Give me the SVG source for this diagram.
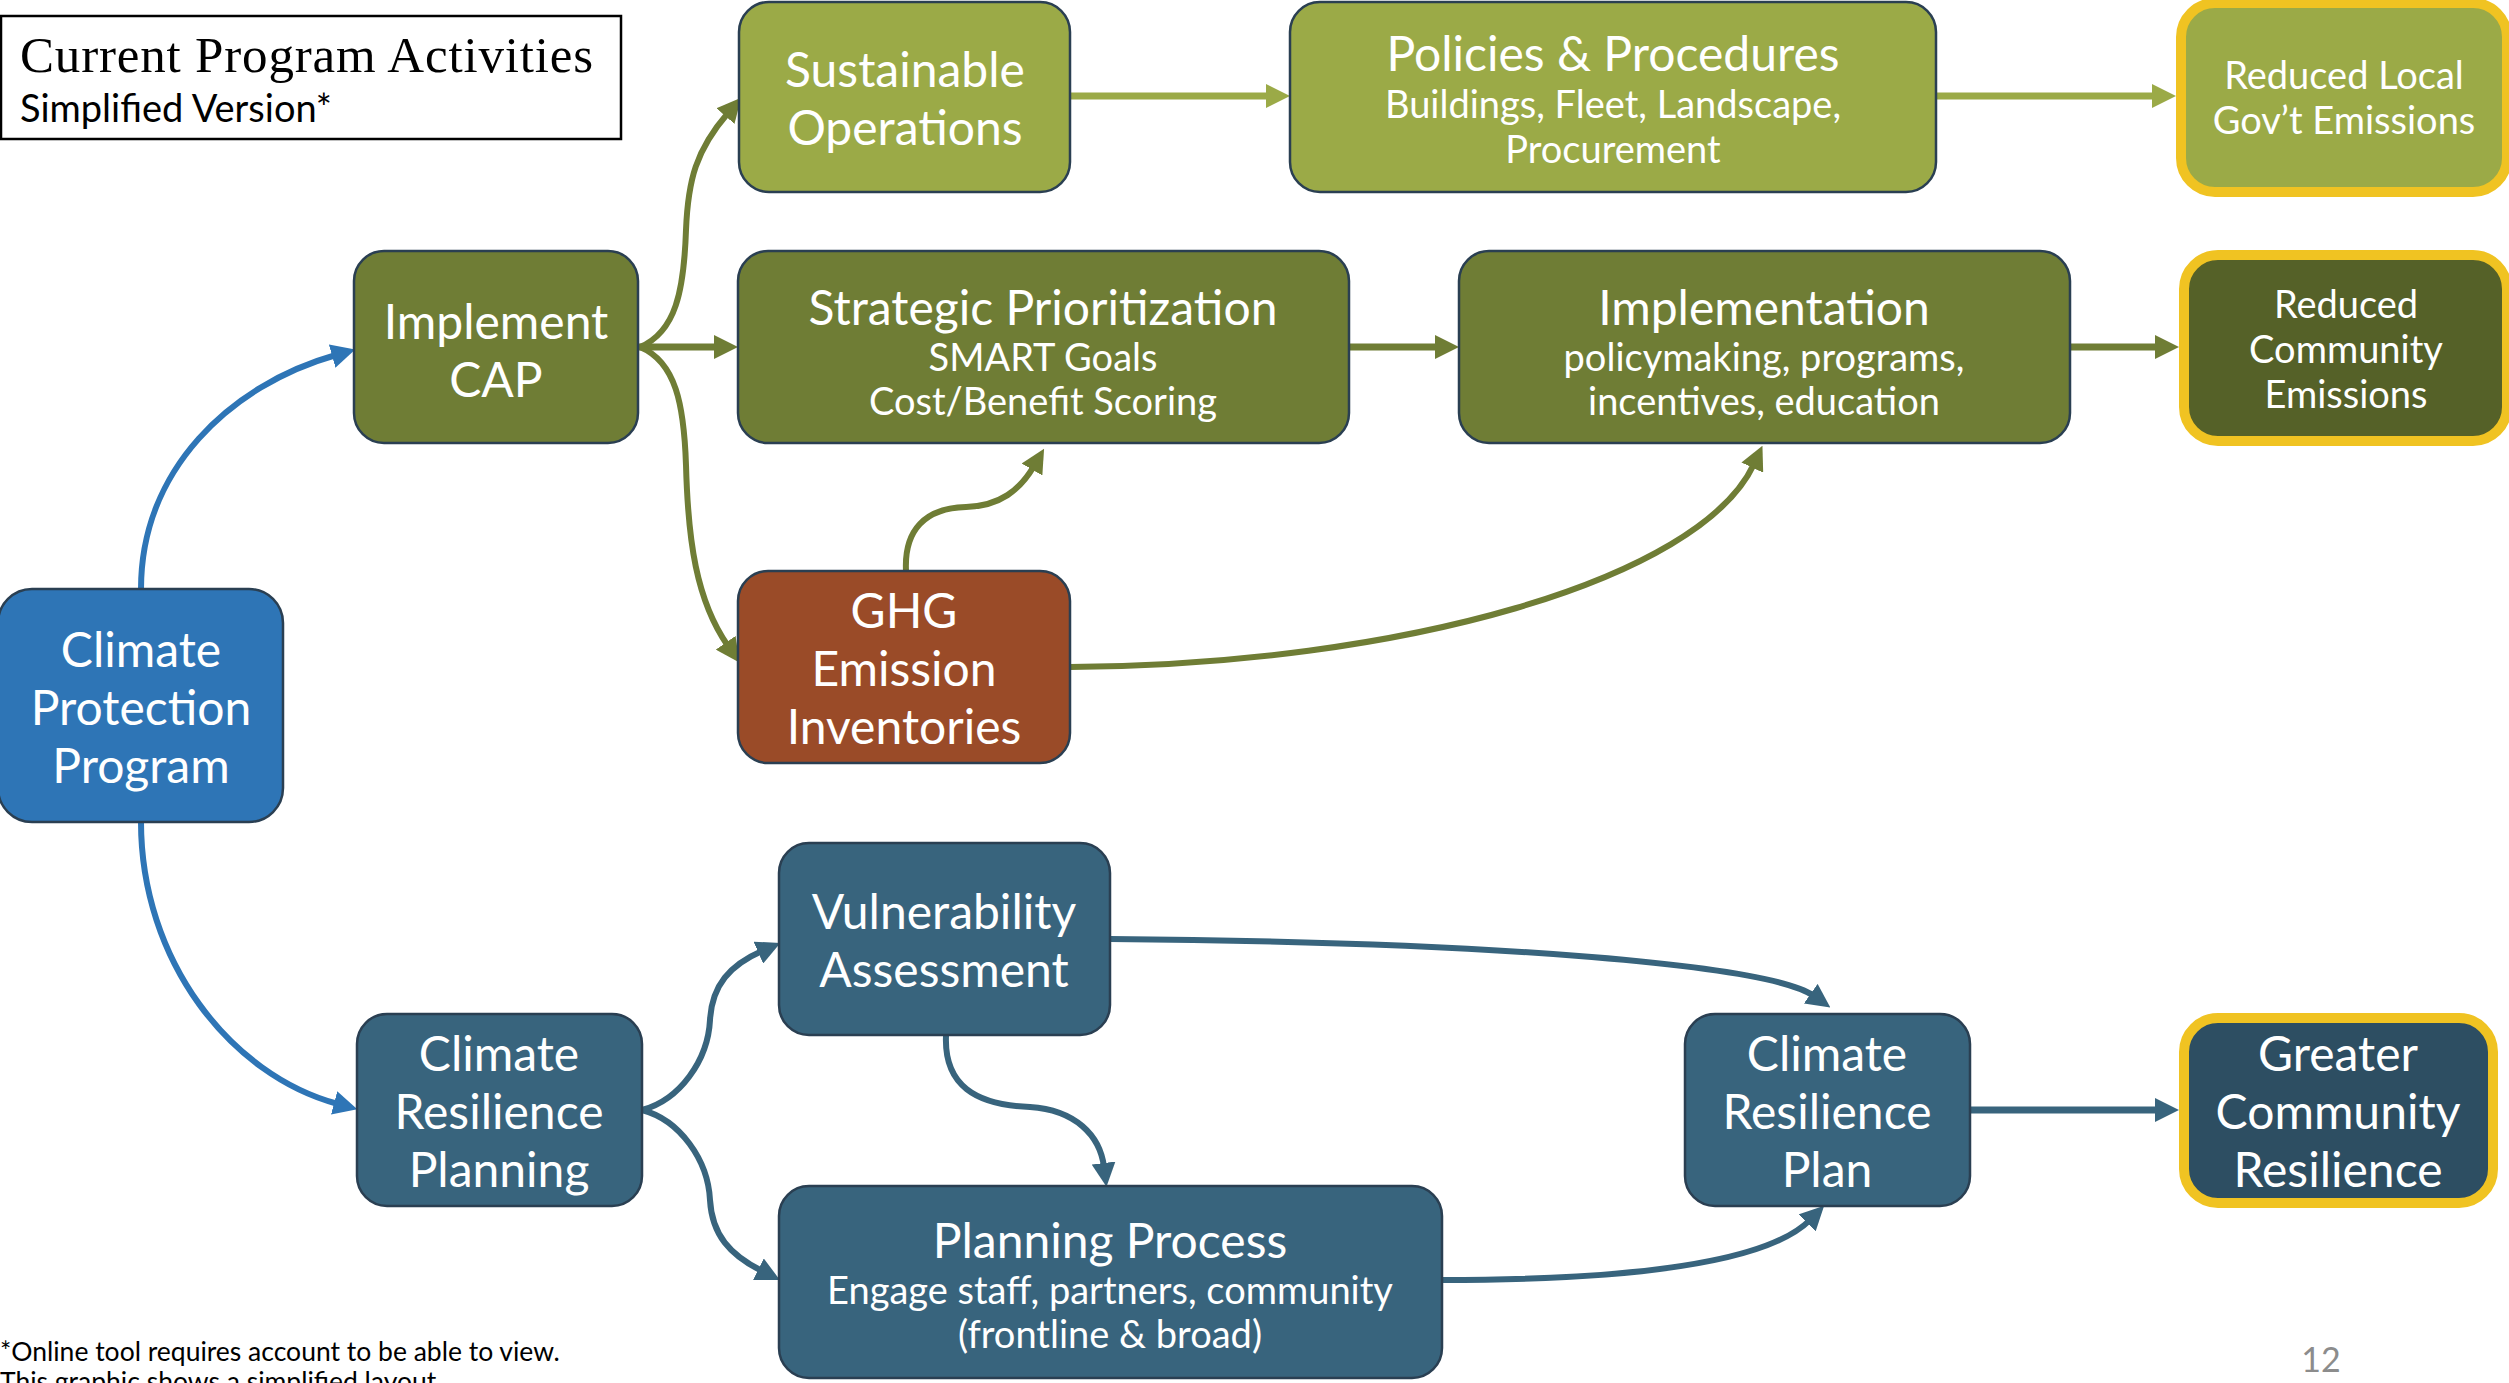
<svg xmlns="http://www.w3.org/2000/svg" width="2509" height="1383" viewBox="0 0 2509 1383">
<defs>
<style>
.n{stroke:#2A3F52;stroke-width:2.5}
.y{stroke:#F0C322;stroke-width:10}
.t{font-family:Lato,"Noto Sans","Liberation Sans",sans-serif;fill:#FFFFFF;text-anchor:middle}
.h{font-size:48px}
.s{font-size:38px}
.c{fill:none;stroke-width:6}
.w{stroke-width:7}
.lg{stroke:#9BAA47}
.og{stroke:#6F7D35}
.bl{stroke:#2E75B6}
.st{stroke:#38647D}
.f{font-family:Lato,"Liberation Sans",sans-serif;font-size:26.5px;fill:#000000}
</style>
<marker id="aLg" markerUnits="userSpaceOnUse" markerWidth="24" markerHeight="24" viewBox="0 0 24 24" refX="4" refY="12" orient="auto"><path d="M0,0 L24,12 L0,24 z" fill="#9BAA47"/></marker>
<marker id="aOg" markerUnits="userSpaceOnUse" markerWidth="24" markerHeight="24" viewBox="0 0 24 24" refX="4" refY="12" orient="auto"><path d="M0,0 L24,12 L0,24 z" fill="#6F7D35"/></marker>
<marker id="aBl" markerUnits="userSpaceOnUse" markerWidth="24" markerHeight="24" viewBox="0 0 24 24" refX="4" refY="12" orient="auto"><path d="M0,0 L24,12 L0,24 z" fill="#2E75B6"/></marker>
<marker id="aSt" markerUnits="userSpaceOnUse" markerWidth="24" markerHeight="24" viewBox="0 0 24 24" refX="4" refY="12" orient="auto"><path d="M0,0 L24,12 L0,24 z" fill="#38647D"/></marker>
</defs>
<rect width="2509" height="1383" fill="#FFFFFF"/>

<g id="connectors">
<path class="c w lg" d="M1070,96 L1270,96" marker-end="url(#aLg)"/>
<path class="c w lg" d="M1936,96 L2156,96" marker-end="url(#aLg)"/>
<path class="c w og" d="M638,347 L718,347" marker-end="url(#aOg)"/>
<path class="c w og" d="M1349,347 L1439,347" marker-end="url(#aOg)"/>
<path class="c w og" d="M2070,347 L2159,347" marker-end="url(#aOg)"/>
<path class="c w st" d="M1970,1110 L2159,1110" marker-end="url(#aSt)"/>
<path class="c og" d="M640,347 C676,332 684,290 686,230 C688,180 696,150 728,113" marker-end="url(#aOg)"/>
<path class="c og" d="M640,347 C676,362 684,405 686,465 C688,540 696,600 728,646" marker-end="url(#aOg)"/>
<path class="c og" d="M906,571 C904,530 925,508 966,507 C1000,506 1020,490 1034,466" marker-end="url(#aOg)"/>
<path class="c og" d="M1070,667 C1400,665 1700,580 1754,464" marker-end="url(#aOg)"/>
<path class="c bl" d="M141,589 C141,470 230,385 336,355" marker-end="url(#aBl)"/>
<path class="c bl" d="M141,822 C141,960 230,1075 338,1104" marker-end="url(#aBl)"/>
<path class="c st" d="M642,1110 C680,1100 708,1060 710,1020 C712,985 730,965 762,951" marker-end="url(#aSt)"/>
<path class="c st" d="M642,1110 C680,1120 708,1160 710,1200 C712,1235 730,1255 762,1271" marker-end="url(#aSt)"/>
<path class="c st" d="M1110,939 C1500,942 1770,965 1814,996" marker-end="url(#aSt)"/>
<path class="c st" d="M946,1036 C944,1085 975,1105 1030,1107 C1075,1110 1100,1135 1104,1167" marker-end="url(#aSt)"/>
<path class="c st" d="M1442,1280 C1650,1280 1770,1260 1810,1220" marker-end="url(#aSt)"/>
</g>

<g id="title">
<rect x="1" y="16" width="620" height="123" fill="#FFFFFF" stroke="#000000" stroke-width="2.5"/>
<text x="20" y="72" font-family="'Liberation Serif',serif" font-size="51" fill="#000000" textLength="573">Current Program Activities</text>
<text x="20" y="122" font-family="Lato,'Liberation Sans',sans-serif" font-size="38" fill="#000000">Simplified Version*</text>
</g>

<g id="sustainable-operations">
<rect class="n" x="739" y="2" width="331" height="190" rx="30" fill="#9BAA47"/>
<text class="t h" x="905" y="87">Sustainable</text>
<text class="t h" x="905" y="145">Operations</text>
</g>

<g id="policies-procedures">
<rect class="n" x="1290" y="2" width="646" height="190" rx="30" fill="#9BAA47"/>
<text class="t h" x="1613" y="71">Policies &amp; Procedures</text>
<text class="t s" x="1613" y="118">Buildings, Fleet, Landscape,</text>
<text class="t s" x="1613" y="163">Procurement</text>
</g>

<g id="reduced-local-emissions">
<rect class="y" x="2181" y="3" width="326" height="189" rx="34" fill="#9BAA47"/>
<text class="t s" x="2344" y="89">Reduced Local</text>
<text class="t s" x="2344" y="134">Gov’t Emissions</text>
</g>

<g id="implement-cap">
<rect class="n" x="354" y="251" width="284" height="192" rx="30" fill="#6F7D35"/>
<text class="t h" x="496" y="339">Implement</text>
<text class="t h" x="496" y="397">CAP</text>
</g>

<g id="strategic-prioritization">
<rect class="n" x="738" y="251" width="611" height="192" rx="30" fill="#6F7D35"/>
<text class="t h" x="1043" y="325">Strategic Prioritization</text>
<text class="t s" x="1043" y="371">SMART Goals</text>
<text class="t s" x="1043" y="415">Cost/Benefit Scoring</text>
</g>

<g id="implementation">
<rect class="n" x="1459" y="251" width="611" height="192" rx="30" fill="#6F7D35"/>
<text class="t h" x="1764" y="325">Implementation</text>
<text class="t s" x="1764" y="371">policymaking, programs,</text>
<text class="t s" x="1764" y="415">incentives, education</text>
</g>

<g id="reduced-community-emissions">
<rect class="y" x="2184" y="255" width="323" height="186" rx="34" fill="#556128"/>
<text class="t s" x="2346" y="318">Reduced</text>
<text class="t s" x="2346" y="363">Community</text>
<text class="t s" x="2346" y="408">Emissions</text>
</g>

<g id="ghg-inventories">
<rect class="n" x="738" y="571" width="332" height="192" rx="30" fill="#9A4B28"/>
<text class="t h" x="904" y="628">GHG</text>
<text class="t h" x="904" y="686">Emission</text>
<text class="t h" x="904" y="744">Inventories</text>
</g>

<g id="climate-protection-program">
<rect class="n" x="-2" y="589" width="285" height="233" rx="34" fill="#2E75B6"/>
<text class="t h" x="141" y="667">Climate</text>
<text class="t h" x="141" y="725">Protection</text>
<text class="t h" x="141" y="783">Program</text>
</g>

<g id="vulnerability-assessment">
<rect class="n" x="779" y="843" width="331" height="192" rx="30" fill="#38647D"/>
<text class="t h" x="944" y="929">Vulnerability</text>
<text class="t h" x="944" y="987">Assessment</text>
</g>

<g id="climate-resilience-planning">
<rect class="n" x="357" y="1014" width="285" height="192" rx="30" fill="#38647D"/>
<text class="t h" x="499" y="1071">Climate</text>
<text class="t h" x="499" y="1129">Resilience</text>
<text class="t h" x="499" y="1187">Planning</text>
</g>

<g id="planning-process">
<rect class="n" x="779" y="1186" width="663" height="192" rx="30" fill="#38647D"/>
<text class="t h" x="1110" y="1258">Planning Process</text>
<text class="t s" x="1110" y="1304">Engage staff, partners, community</text>
<text class="t s" x="1110" y="1348">(frontline &amp; broad)</text>
</g>

<g id="climate-resilience-plan">
<rect class="n" x="1685" y="1014" width="285" height="192" rx="30" fill="#38647D"/>
<text class="t h" x="1827" y="1071">Climate</text>
<text class="t h" x="1827" y="1129">Resilience</text>
<text class="t h" x="1827" y="1187">Plan</text>
</g>

<g id="greater-community-resilience">
<rect class="y" x="2184" y="1018" width="309" height="185" rx="34" fill="#2D4E62"/>
<text class="t h" x="2338" y="1071">Greater</text>
<text class="t h" x="2338" y="1129">Community</text>
<text class="t h" x="2338" y="1187">Resilience</text>
</g>

<g id="footer">
<text class="f" x="0" y="1361">*Online tool requires account to be able to view.</text>
<text class="f" x="0" y="1391">This graphic shows a simplified layout.</text>
<text x="2321" y="1372" font-family="Lato,'Liberation Sans',sans-serif" font-size="34" fill="#8C8C8C" text-anchor="middle">12</text>
</g>
</svg>
